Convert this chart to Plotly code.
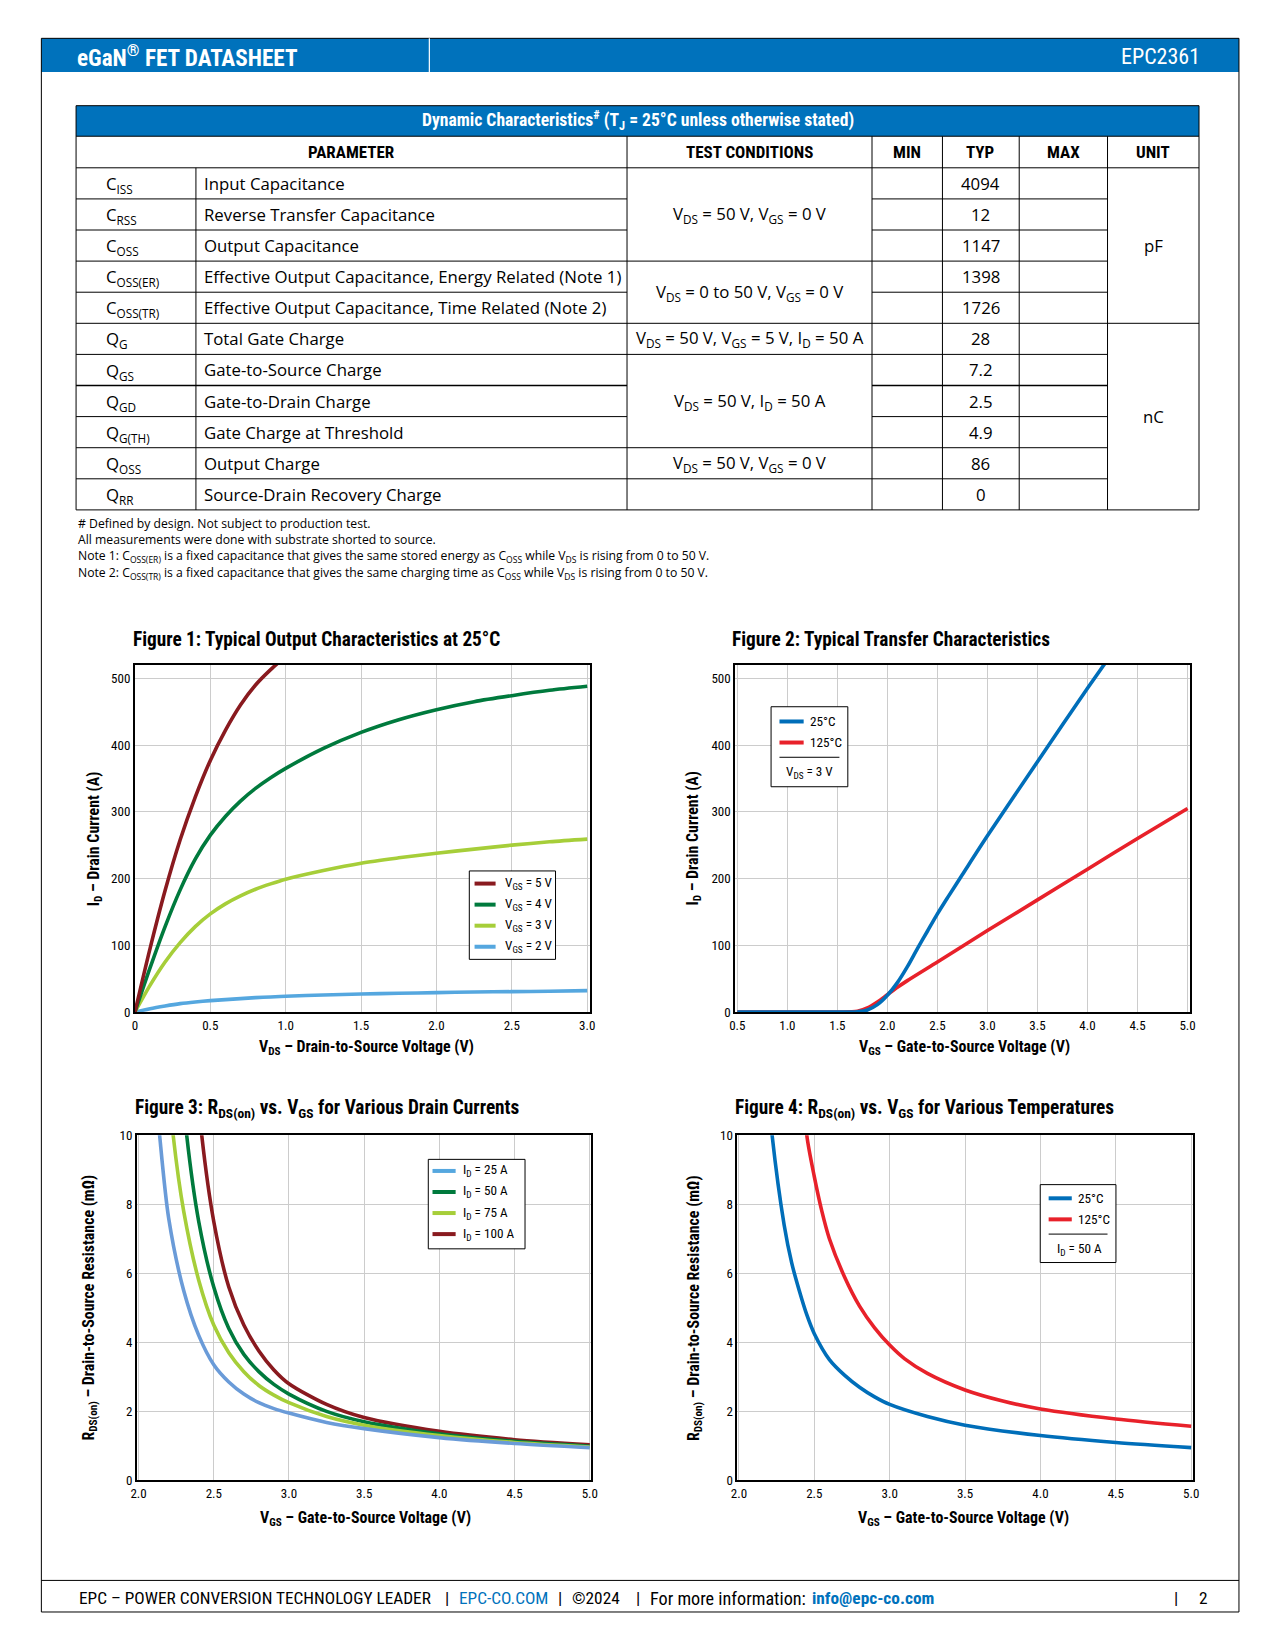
import plotly.graph_objects as go

# page is 1275x1650; browser body margin of 8px is kept, figure fills the rest
OFF = 8
FW, FH = 1275 - 2 * OFF, 1650 - 2 * OFF
COND = "Roboto Condensed, Noto Sans Condensed, Liberation Sans Narrow, DejaVu Sans Condensed, sans-serif"
BODY = "Open Sans, Noto Sans, sans-serif"
BLUE = "#0072BC"

# ---------------- table data ----------------
table_title = "Dynamic Characteristics<sup>#</sup> (T<sub>J</sub> = 25°C unless otherwise stated)"
table_headers = ["PARAMETER", "TEST CONDITIONS", "MIN", "TYP", "MAX", "UNIT"]
symbols = ["C<sub>ISS</sub>", "C<sub>RSS</sub>", "C<sub>OSS</sub>", "C<sub>OSS(ER)</sub>", "C<sub>OSS(TR)</sub>",
           "Q<sub>G</sub>", "Q<sub>GS</sub>", "Q<sub>GD</sub>", "Q<sub>G(TH)</sub>", "Q<sub>OSS</sub>", "Q<sub>RR</sub>"]
params = ["Input Capacitance", "Reverse Transfer Capacitance", "Output Capacitance",
          "Effective Output Capacitance, Energy Related (Note 1)",
          "Effective Output Capacitance, Time Related (Note 2)",
          "Total Gate Charge", "Gate-to-Source Charge", "Gate-to-Drain Charge",
          "Gate Charge at Threshold", "Output Charge", "Source-Drain Recovery Charge"]
typ_values = ["4094", "12", "1147", "1398", "1726", "28", "7.2", "2.5", "4.9", "86", "0"]
conditions = [(0, 3, "V<sub>DS</sub> = 50 V, V<sub>GS</sub> = 0 V"),
              (3, 5, "V<sub>DS</sub> = 0 to 50 V, V<sub>GS</sub> = 0 V"),
              (5, 6, "V<sub>DS</sub> = 50 V, V<sub>GS</sub> = 5 V, I<sub>D</sub> = 50 A"),
              (6, 9, "V<sub>DS</sub> = 50 V, I<sub>D</sub> = 50 A"),
              (9, 10, "V<sub>DS</sub> = 50 V, V<sub>GS</sub> = 0 V"),
              (10, 11, "")]
units = [(0, 5, "pF"), (5, 11, "nC")]
notes = ["# Defined by design. Not subject to production test.",
         "All measurements were done with substrate shorted to source.",
         "Note 1: C<sub>OSS(ER)</sub> is a fixed capacitance that gives the same stored energy as C<sub>OSS</sub> while V<sub>DS</sub> is rising from 0 to 50 V.",
         "Note 2: C<sub>OSS(TR)</sub> is a fixed capacitance that gives the same charging time as C<sub>OSS</sub> while V<sub>DS</sub> is rising from 0 to 50 V."]
footer_parts = ["EPC – POWER CONVERSION TECHNOLOGY LEADER", "|", "EPC-CO.COM", "|", "©2024", "|",
                "For more information:", "info@epc-co.com", "|", "2"]

# ---------------- figure 1 data ----------------
f1_x_5v = [0, 0.1, 0.2, 0.3, 0.4, 0.5, 0.6, 0.7, 0.8, 0.9, 1.0]
f1_y_5v = [0, 95, 182, 258, 322, 377, 422, 460, 490, 513, 533]
f1_x = [0, 0.1, 0.2, 0.3, 0.4, 0.5, 0.6, 0.7, 0.8, 0.9, 1.0, 1.25, 1.5, 1.75, 2.0, 2.25, 2.5, 2.75, 3.0]
f1_y_4v = [0, 66, 128, 183, 229, 265, 293, 316, 335, 351, 365, 395, 419, 438, 453, 465, 474, 482, 488]
f1_y_3v = [0, 40, 75, 104, 128, 147, 162, 174, 184, 192, 199, 212, 223, 231, 238, 244, 250, 255, 259]
f1_y_2v = [0, 5, 9, 12.5, 15, 17, 18.5, 20, 21.5, 22.5, 23.5, 25.5, 27, 28, 29, 30, 30.5, 31, 32]
f1_labels = ["V<sub>GS</sub> = 5 V", "V<sub>GS</sub> = 4 V", "V<sub>GS</sub> = 3 V", "V<sub>GS</sub> = 2 V"]
f1_colors = ["#891A1F", "#007A3D", "#A6CE39", "#55A7DF"]

# ---------------- figure 2 data ----------------
f2_x_25 = [0.5, 1.0, 1.5, 1.7, 1.8, 1.9, 2.0, 2.1, 2.2, 2.3, 2.4, 2.5, 2.6, 2.75, 3.0, 3.5, 4.0, 4.5]
f2_y_25 = [0, 0, 0, 0.5, 3, 11, 25, 44, 68, 95, 121, 147, 171, 206, 264, 375, 485, 592]
f2_x_125 = [0.5, 1.0, 1.5, 1.7, 1.8, 1.9, 2.0, 2.1, 2.2, 2.5, 3.0, 3.5, 4.0, 4.5, 5.0]
f2_y_125 = [0, 0, 0, 1, 6, 15, 26, 37, 47, 75, 122, 168, 214, 260, 305]
f2_labels = ["25°C", "125°C"]
f2_colors = ["#006EB9", "#E8212A"]
f2_note = "V<sub>DS</sub> = 3 V"

# ---------------- figure 3 data ----------------
f3_x_25 = [2.10, 2.14, 2.2, 2.3, 2.4, 2.5, 2.6, 2.7, 2.8, 2.9, 3.0, 3.25, 3.5, 4.0, 4.5, 5.0]
f3_y_25 = [12, 10, 7.6, 5.5, 4.2, 3.35, 2.85, 2.5, 2.25, 2.08, 1.95, 1.68, 1.5, 1.24, 1.07, 0.95]
f3_x_50 = [2.28, 2.32, 2.4, 2.5, 2.6, 2.7, 2.8, 2.9, 3.0, 3.25, 3.5, 4.0, 4.5, 5.0]
f3_y_50 = [12, 10, 7.5, 5.6, 4.4, 3.65, 3.15, 2.78, 2.5, 2.0, 1.7, 1.35, 1.13, 0.99]
f3_x_75 = [2.19, 2.23, 2.3, 2.4, 2.5, 2.6, 2.7, 2.8, 2.9, 3.0, 3.25, 3.5, 4.0, 4.5, 5.0]
f3_y_75 = [12, 10, 7.8, 5.8, 4.5, 3.7, 3.15, 2.75, 2.47, 2.25, 1.85, 1.6, 1.3, 1.1, 0.97]
f3_x_100 = [2.38, 2.42, 2.5, 2.6, 2.7, 2.8, 2.9, 3.0, 3.25, 3.5, 4.0, 4.5, 5.0]
f3_y_100 = [12, 10, 7.5, 5.6, 4.5, 3.75, 3.2, 2.8, 2.2, 1.82, 1.42, 1.18, 1.03]
f3_labels = ["I<sub>D</sub> = 25 A", "I<sub>D</sub> = 50 A", "I<sub>D</sub> = 75 A", "I<sub>D</sub> = 100 A"]
f3_colors = ["#6A9BD8", "#007A3D", "#A6CE39", "#891A1F"]
f3_legend_colors = ["#55A7DF", "#007A3D", "#A6CE39", "#891A1F"]

# ---------------- figure 4 data ----------------
f4_x_25 = [2.18, 2.22, 2.3, 2.35, 2.4, 2.45, 2.5, 2.6, 2.7, 2.8, 2.9, 3.0, 3.25, 3.5, 4.0, 4.5, 5.0]
f4_y_25 = [12, 10, 7.4, 6.3, 5.5, 4.8, 4.25, 3.5, 3.05, 2.7, 2.42, 2.2, 1.85, 1.6, 1.3, 1.1, 0.95]
f4_x_125 = [2.42, 2.45, 2.5, 2.55, 2.6, 2.7, 2.8, 2.9, 3.0, 3.1, 3.25, 3.5, 3.75, 4.0, 4.5, 5.0]
f4_y_125 = [12, 10, 8.8, 7.8, 7.0, 5.9, 5.05, 4.42, 3.92, 3.52, 3.1, 2.62, 2.3, 2.07, 1.78, 1.57]
f4_labels = ["25°C", "125°C"]
f4_colors = ["#006EB9", "#E8212A"]
f4_note = "I<sub>D</sub> = 50 A"

fig1_ticks_x = [0, 0.5, 1.0, 1.5, 2.0, 2.5, 3.0]
fig1_ticktext_x = ["0", "0.5", "1.0", "1.5", "2.0", "2.5", "3.0"]
fig2_ticks_x = [0.5, 1.0, 1.5, 2.0, 2.5, 3.0, 3.5, 4.0, 4.5, 5.0]
id_ticks = [0, 100, 200, 300, 400, 500]
vgs_ticks = [2.0, 2.5, 3.0, 3.5, 4.0, 4.5, 5.0]
r_ticks = [0, 2, 4, 6, 8, 10]


# layout positions below are given in reference-image units and mapped to page pixels
def qx(p):
    return (p - 5.4) / 0.9405


def qy(p):
    return (p - 7.3) / 0.9413


def X(p):
    return (qx(p) - OFF) / FW


def Y(p):
    return 1 - (qy(p) - OFF) / FH


shapes = []
annotations = []


def rect(x0, y0, x1, y1, fill=None, lw=1, lc="black", layer="below"):
    shapes.append(dict(type="rect", xref="paper", yref="paper", x0=X(x0), x1=X(x1), y0=Y(y1), y1=Y(y0),
                       fillcolor=fill if fill else "rgba(0,0,0,0)", line=dict(color=lc, width=lw), layer=layer))


def line(x0, y0, x1, y1, lw=1, lc="black", layer="above"):
    shapes.append(dict(type="line", xref="paper", yref="paper", x0=X(x0), x1=X(x1), y0=Y(y0), y1=Y(y1),
                       line=dict(color=lc, width=lw), layer=layer))


def text(x, y, s, size=14, family=BODY, color="black", xanchor="left", bold=False, angle=0):
    if bold:
        s = "<b>" + s + "</b>"
    annotations.append(dict(xref="paper", yref="paper", x=X(x), y=Y(y), text=s, showarrow=False,
                            xanchor=xanchor, yanchor="middle", textangle=angle,
                            font=dict(size=size, family=family, color=color)))


# ---------------- page frame & header ----------------
rect(38, 37, 1177, 69, fill=BLUE, lw=0)
rect(38, 37, 1177, 1532, lw=1)
line(407, 37, 407, 69, lw=1.2, lc="white")
text(70, 54, "eGaN<sup>®</sup> FET DATASHEET", size=23.2, family=COND, color="white", bold=True)
text(1142, 54, "EPC2361", size=22, family=COND, color="white", xanchor="right")

# ---------------- table ----------------
cols = [71, 185, 595, 828, 895, 968, 1052, 1139]
t_top, t_head, t_body, t_end = 101, 130, 160, 485
rh = (t_end - t_body) / len(params)
rect(cols[0], t_top, cols[-1], t_head, fill=BLUE, lw=0)
rect(cols[0], t_top, cols[-1], t_end, lw=1)
line(cols[0], t_head, cols[-1], t_head)
line(cols[0], t_body, cols[-1], t_body)
text((cols[0] + cols[-1]) / 2, (t_top + t_head) / 2, table_title, size=17.6, family=COND, color="white",
     xanchor="center", bold=True)
head_centers = [(cols[0] + cols[2]) / 2] + [(cols[i] + cols[i + 1]) / 2 for i in range(2, 7)]
for hc, ht in zip(head_centers, table_headers):
    text(hc, (t_head + t_body) / 2, ht, size=17, family=COND, xanchor="center", bold=True)
for c in cols[2:7]:
    line(c, t_head, c, t_end)
line(cols[1], t_body, cols[1], t_end)
cond_bounds = {g[0] for g in conditions}
unit_bounds = {g[0] for g in units}
for r in range(1, len(params)):
    yy = t_body + r * rh
    line(cols[0], yy, cols[2], yy, lw=1.6 if r == 7 else 1)
    line(cols[3], yy, cols[6], yy, lw=1.6 if r == 7 else 1)
    if r in cond_bounds:
        line(cols[2], yy, cols[3], yy)
    if r in unit_bounds:
        line(cols[6], yy, cols[7], yy)
BS = 16.8
for i in range(len(params)):
    yc = t_body + (i + 0.5) * rh
    text(98, yc + 1, symbols[i], size=BS)
    text(191, yc, params[i], size=BS)
    text((cols[4] + cols[5]) / 2, yc, typ_values[i], size=BS, xanchor="center")
for s, e, t in conditions:
    text((cols[2] + cols[3]) / 2, t_body + (s + e) / 2 * rh, t, size=BS, xanchor="center")
for s, e, t in units:
    text((cols[6] + cols[7]) / 2, t_body + (s + e) / 2 * rh, t, size=BS, xanchor="center")
for k, (n, ny) in enumerate(zip(notes, [498, 513, 529, 545])):
    text(71, ny, n, size=12.2)

# ---------------- footer ----------------
line(38, 1502, 1177, 1502)
FS = 17.3
footer_x = [72, 420, 433, 527, 541, 602, 615, 769, 1113, 1137]
footer_col = ["black", "black", BLUE, "black", "black", "black", "black", BLUE, "black", "black"]
footer_size = [FS, FS, FS, FS, FS, FS, 18.2, FS, FS, FS]
for fx, ft, fc, fs in zip(footer_x, footer_parts, footer_col, footer_size):
    text(fx, 1519, ft, size=fs, family=COND, color=fc, bold=(ft == footer_parts[7]))

# ---------------- figures ----------------
fig = go.Figure()


def add(x, y, color, ax):
    fig.add_trace(go.Scatter(x=x, y=y, mode="lines", line=dict(color=color, width=3.6, shape="spline", smoothing=0.8),
                             xaxis="x" + ax, yaxis="y" + ax, showlegend=False, hoverinfo="skip"))


add(f1_x, f1_y_2v, f1_colors[3], "")
add(f1_x, f1_y_3v, f1_colors[2], "")
add(f1_x, f1_y_4v, f1_colors[1], "")
add(f1_x_5v, f1_y_5v, f1_colors[0], "")
add(f2_x_125, f2_y_125, f2_colors[1], "2")
add(f2_x_25, f2_y_25, f2_colors[0], "2")
add(f3_x_100, f3_y_100, f3_colors[3], "3")
add(f3_x_50, f3_y_50, f3_colors[1], "3")
add(f3_x_75, f3_y_75, f3_colors[2], "3")
add(f3_x_25, f3_y_25, f3_colors[0], "3")
add(f4_x_125, f4_y_125, f4_colors[1], "4")
add(f4_x_25, f4_y_25, f4_colors[0], "4")


def axis(domain, rng, tv, tt, anchor):
    return dict(domain=domain, range=rng, tickvals=tv, ticktext=tt, anchor=anchor,
                showline=True, linecolor="black", linewidth=2, mirror=True,
                showgrid=True, gridcolor="#cccccc", gridwidth=1, zeroline=False, ticks="",
                tickfont=dict(family=COND, size=13, color="black"), fixedrange=True)


def fmt(v):
    return ["%.1f" % t for t in v]


boxes = {
    "1": (127, 560, 632, 962),
    "2": (698, 1130, 632, 962),
    "3": (129, 561, 1079, 1407),
    "4": (700, 1133, 1079, 1407),
}
layout_axes = {}
specs = {
    "1": ([0, 3.02], fig1_ticks_x, fig1_ticktext_x, [0, 520.5], id_ticks, [str(v) for v in id_ticks]),
    "2": ([0.48, 5.02], fig2_ticks_x, fmt(fig2_ticks_x), [0, 520.5], id_ticks, [str(v) for v in id_ticks]),
    "3": ([1.99, 5.01], vgs_ticks, fmt(vgs_ticks), [0, 10], r_ticks, [str(v) for v in r_ticks]),
    "4": ([1.99, 5.01], vgs_ticks, fmt(vgs_ticks), [0, 10], r_ticks, [str(v) for v in r_ticks]),
}
for k, (x0, x1, y0, y1) in boxes.items():
    xr, xtv, xtt, yr, ytv, ytt = specs[k]
    suf = "" if k == "1" else k
    layout_axes["xaxis" + suf] = axis([X(x0), X(x1)], xr, xtv, xtt, "y" + suf)
    layout_axes["yaxis" + suf] = axis([Y(y1), Y(y0)], yr, ytv, ytt, "x" + suf)

TS = 19.3
text(123, 608, "Figure 1: Typical Output Characteristics at 25°C", size=TS, family=COND, bold=True)
text(693, 608, "Figure 2: Typical Transfer Characteristics", size=TS, family=COND, bold=True)
text(125, 1054, "Figure 3: R<sub>DS(on)</sub> vs. V<sub>GS</sub> for Various Drain Currents", size=TS, family=COND, bold=True)
text(696, 1054, "Figure 4: R<sub>DS(on)</sub> vs. V<sub>GS</sub> for Various Temperatures", size=TS, family=COND, bold=True)

AS = 15.9
text(347, 996, "V<sub>DS</sub> – Drain-to-Source Voltage (V)", size=AS, family=COND, bold=True, xanchor="center")
text(916, 996, "V<sub>GS</sub> – Gate-to-Source Voltage (V)", size=AS, family=COND, bold=True, xanchor="center")
text(346, 1443, "V<sub>GS</sub> – Gate-to-Source Voltage (V)", size=AS, family=COND, bold=True, xanchor="center")
text(915, 1443, "V<sub>GS</sub> – Gate-to-Source Voltage (V)", size=AS, family=COND, bold=True, xanchor="center")
text(88, 797, "I<sub>D</sub> – Drain Current (A)", size=AS, family=COND, bold=True, xanchor="center", angle=-90)
text(658, 797, "I<sub>D</sub> – Drain Current (A)", size=AS, family=COND, bold=True, xanchor="center", angle=-90)
text(84, 1243, "R<sub>DS(on)</sub> – Drain-to-Source Resistance (mΩ)", size=AS, family=COND, bold=True, xanchor="center", angle=-90)
text(659, 1243, "R<sub>DS(on)</sub> – Drain-to-Source Resistance (mΩ)", size=AS, family=COND, bold=True, xanchor="center", angle=-90)

LS = 13.2


def legend_box(x0, y0, x1, y1):
    shapes.append(dict(type="rect", xref="paper", yref="paper", x0=X(x0), x1=X(x1), y0=Y(y1), y1=Y(y0),
                       fillcolor="white", line=dict(color="black", width=1), layer="above"))


def legend_entries(lx0, lx1, tx, ys, labels, colors):
    for yy, lab, col in zip(ys, labels, colors):
        line(lx0, yy, lx1, yy, lw=4, lc=col)
        text(tx, yy, lab, size=LS, family=COND)


legend_box(445, 828, 527, 912)
legend_entries(450, 470, 477, [840, 860, 880, 900], f1_labels, f1_colors)

legend_box(732, 672, 805, 748)
legend_entries(740, 763, 767, [686, 706], f2_labels, f2_colors)
line(740, 720, 797, 720, lw=1)
text(769, 734, f2_note, size=LS, family=COND, xanchor="center")

legend_box(406, 1102, 498, 1187)
legend_entries(410, 432, 437, [1113, 1133, 1153, 1173], f3_labels, f3_legend_colors)

legend_box(988, 1126, 1060, 1200)
legend_entries(996, 1018, 1022, [1139, 1159], f4_labels, f4_colors)
line(996, 1173, 1052, 1173, lw=1)
text(1025, 1188, f4_note, size=LS, family=COND, xanchor="center")

fig.update_layout(width=FW, height=FH, margin=dict(l=0, r=0, t=0, b=0),
                  paper_bgcolor="white", plot_bgcolor="white", showlegend=False,
                  shapes=shapes, annotations=annotations, **layout_axes)
fig.write_html("out.html", config={"displayModeBar": False})
